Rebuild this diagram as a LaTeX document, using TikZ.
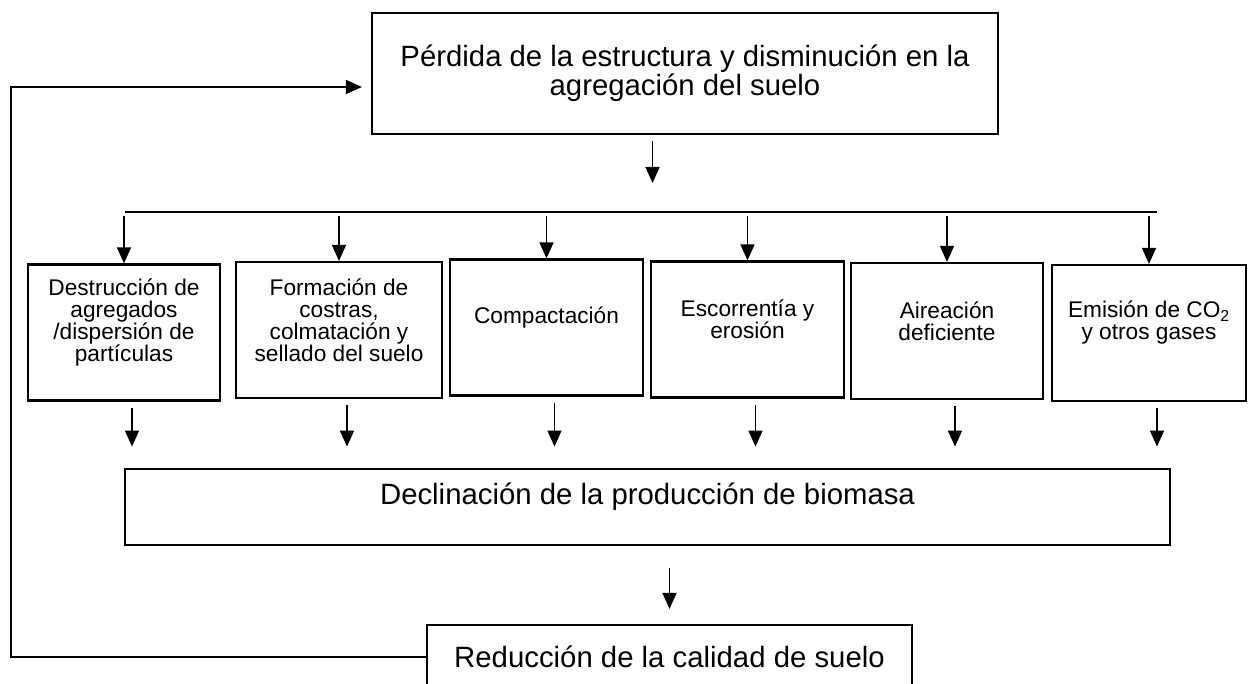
\documentclass[tikz,border=0pt]{standalone}
\usepackage{fontspec}
\setmainfont{Liberation Sans}
\usetikzlibrary{arrows.meta,calc}
\newcommand{\causebox}[1]{\parbox{140pt}{\centering\fontsize{17}{16.5}\selectfont #1}}

\begin{document}
\begin{tikzpicture}[x=0.75pt,y=-0.75pt,
  arr/.style={-{Triangle[length=12pt,width=10.5pt]},line width=1pt},
  bigtext/.style={font=\fontsize{22}{20.5}\selectfont,align=center},
  bigbox/.style={draw,line width=1.6pt,inner sep=0pt,bigtext},
  cause/.style={draw,line width=1.6pt,minimum height=102pt,inner sep=0pt},
  causetext/.style={inner sep=0pt,yshift=7.5pt}]
\path[use as bounding box] (0,0) rectangle (1250,684);
\clip (0,0) rectangle (1250,684);
% boxes
\node[bigbox,minimum width=469.5pt,minimum height=90.75pt] (perdida) at (685,73.5) {Pérdida de la estructura y disminución en la\\agregación del suelo};
\foreach \n/\x/\y/\w/\txt in {destruccion/124/332.5/144/{Destrucción de\\agregados\\/dispersión de\\partículas},
    formacion/339/330/154.5/{Formación de\\costras,\\colmatación y\\sellado del suelo},
    compactacion/546.5/327.5/144.75/{Compactación},
    escorrentia/747.5/329.5/144.75/{Escorrentía y\\erosión},
    aireacion/947/331/144/{Aireación\\deficiente},
    emision/1149/333/146/{Emisión de CO\textsubscript{2}\\y otros gases}}
  \node[cause,minimum width=\w pt,label={[causetext]center:\causebox{\txt}}] (\n) at (\x,\y) {};
\node[bigbox,minimum width=783.75pt,minimum height=57pt,label={[bigtext,yshift=7.5pt]center:Declinación de la producción de biomasa}] (biomasa) at (647.5,507) {};
\node[bigbox,minimum width=363.75pt,minimum height=48pt] (reduccion) at (669.5,657) {Reducción de la calidad de suelo};
% arrows
\coordinate (busL) at (125,212);
\coordinate (busR) at (1157,212);
\draw[line width=1pt] (busL) -- (busR);
\coordinate (pout) at ($(perdida.south)+(-32.5,0)$);
\draw[arr,shorten <=4.5pt,shorten >=21.75pt] (pout) -- (pout |- busL);
\foreach \n in {destruccion,formacion,compactacion,escorrentia,aireacion,emision}
  {\draw[arr,shorten <=3pt] (\n.north |- busL) -- (\n.north);
   \draw[arr,shorten <=4.5pt,shorten >=16pt] ($(\n.south)+(8,0)$) -- ($(\n.south |- biomasa.north)+(8,0)$);}
\draw[arr,shorten <=16.5pt,shorten >=11.25pt] (reduccion.north |- biomasa.south) -- (reduccion.north);
% feedback
\coordinate (fbin) at ($(perdida.west)+(0,13.5)$);
\draw[arr,shorten >=6.75pt] (reduccion.west) -- ++(-415,0) |- (fbin);
\end{tikzpicture}
\end{document}
